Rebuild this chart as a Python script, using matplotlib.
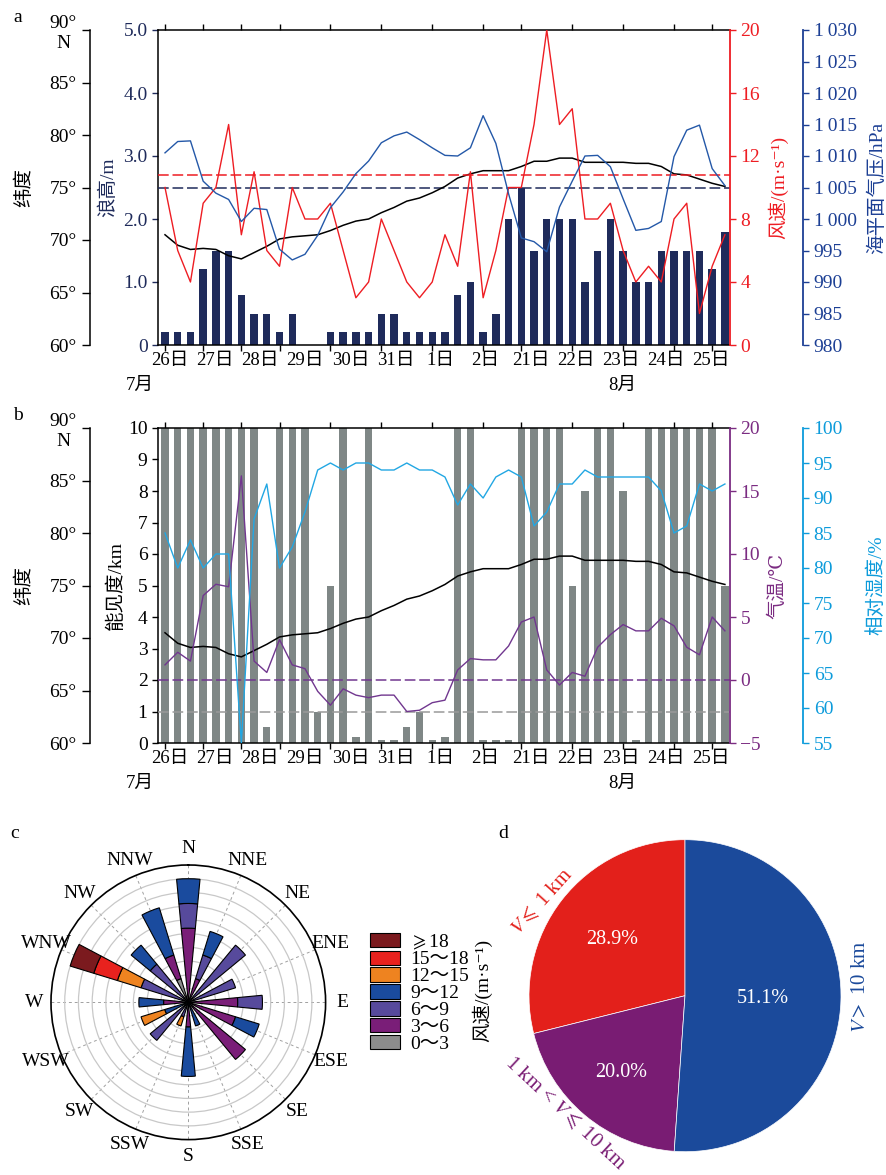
import numpy as np
import matplotlib
matplotlib.use('Agg')
import matplotlib.pyplot as plt
from matplotlib.patches import Patch

plt.rcParams['font.family'] = ['Liberation Serif', 'DejaVu Serif', 'Noto Sans CJK SC', 'DejaVu Sans']
plt.rcParams['mathtext.fontset'] = 'stix'
plt.rcParams['font.size'] = 14
plt.rcParams['axes.linewidth'] = 1.1

# --- time axis ---
day_labels = ['26日', '27日', '28日', '29日', '30日', '31日', '1日', '2日',
              '21日', '22日', '23日', '24日', '25日']
day_ticks = [0, 3, 6, 9, 13, 17, 21, 25, 28, 32, 36, 40, 43]

# --- panel a ---
wave = [0.2, 0.2, 0.2, 1.2, 1.5, 1.5, 0.8, 0.5, 0.5, 0.2, 0.5, 0, 0, 0.2, 0.2,
        0.2, 0.2, 0.5, 0.5, 0.2, 0.2, 0.2, 0.2, 0.8, 1.0, 0.2, 0.5, 2.0, 2.5, 1.5,
        2.0, 2.0, 2.0, 1.0, 1.5, 2.0, 1.5, 1.0, 1.0, 1.5, 1.5, 1.5, 1.5, 1.2, 1.8]
wind = [10, 6, 4, 9, 10, 14, 7, 11, 6, 5, 10, 8, 8, 9, 6, 3, 4, 8, 6, 4, 3, 4, 7,
        5, 11, 3, 6, 10, 10, 14, 20, 14, 15, 8, 8, 9, 6, 4, 5, 4, 8, 9, 2, 5, 7]
pressure = [1010.5, 1012.3, 1012.4, 1006.0, 1004.1, 1003.1, 999.6, 1001.7, 1001.5, 995.2,
            993.5, 994.4, 997.4, 1001.8, 1004.3, 1007.2, 1009.2, 1012.1, 1013.2, 1013.8,
            1012.6, 1011.3, 1010.1, 1010.0, 1011.3, 1016.4, 1012.0, 1004.0, 997.0, 996.4,
            994.8, 1001.9, 1006.0, 1010.0, 1010.1, 1008.3, 1003.2, 998.2, 998.5, 999.6,
            1009.9, 1014.1, 1014.9, 1008.0, 1005.3]
lat = [70.5, 69.5, 69.1, 69.2, 69.1, 68.5, 68.2, 68.8, 69.4, 70.1,
       70.3, 70.4, 70.5, 70.9, 71.4, 71.8, 72.0, 72.6, 73.1, 73.7,
       74.0, 74.5, 75.1, 75.9, 76.3, 76.6, 76.6, 76.6, 77.0, 77.5,
       77.5, 77.8, 77.8, 77.4, 77.4, 77.4, 77.4, 77.3, 77.3, 77.0,
       76.3, 76.2, 75.8, 75.4, 75.1]
wave_limit = 2.5
wind_limit = 10.8

# --- panel b ---
vis = [10, 10, 10, 10, 10, 10, 10, 10, 0.5, 10, 10, 10, 1.0, 5.0, 10, 0.2, 10, 0.1,
       0.1, 0.5, 1.0, 0.1, 0.2, 10, 10, 0.1, 0.1, 0.1, 10, 10, 10, 10, 5.0, 8.0, 10,
       10, 8.0, 0.1, 10, 10, 10, 10, 10, 10, 5.0]
temp = [1.2, 2.2, 1.5, 6.7, 7.6, 7.4, 16.2, 1.5, 0.6, 3.2,
        1.2, 0.9, -0.9, -2.0, -0.7, -1.2, -1.4, -1.2, -1.2, -2.5,
        -2.4, -1.8, -1.6, 0.8, 1.7, 1.6, 1.6, 2.7, 4.6, 5.0,
        0.8, -0.4, 0.6, 0.3, 2.6, 3.6, 4.4, 3.9, 3.9, 4.9,
        4.3, 2.6, 2.0, 5.0, 3.9]
rh = [85, 80, 84, 80, 82, 82, 55, 87, 92, 80, 83, 88, 94, 95, 94, 95, 95, 94, 94, 95,
      94, 94, 93, 89, 92, 90, 93, 94, 93, 86, 88, 92, 92, 94, 93, 93, 93, 93, 93, 91,
      85, 86, 92, 91, 92]
vis_limit = 1
temp_limit = 0

# --- panel c: wind rose ---
directions = ['N', 'NNE', 'NE', 'ENE', 'E', 'ESE', 'SE', 'SSE',
              'S', 'SSW', 'SW', 'WSW', 'W', 'WNW', 'NW', 'NNW']
speed_classes = ['0～3', '3～6', '6～9', '9～12', '12～15', '15～18', '$\\geqslant$18']
f_0_3 = [0, 0, 0, 0, 0, 0, 0, 0, 0, 0, 0, 0, 0, 0, 0, 1.8]
f_3_6 = [5.4, 1.8, 0, 0, 3.6, 3.6, 5.4, 0, 1.8, 0, 0, 0, 1.8, 0, 0, 1.8]
f_6_9 = [1.8, 1.8, 5.4, 3.6, 1.8, 0, 0, 0, 0, 1.1, 3.6, 0, 0, 3.6, 3.6, 0]
f_9_12 = [1.8, 1.8, 0, 0, 0, 1.8, 0, 1.8, 3.6, 0, 0, 1.8, 1.8, 0, 1.8, 3.6]
f_12_15 = [0, 0, 0, 0, 0, 0, 0, 0, 0, 0.7, 0, 1.8, 0, 1.8, 0, 0]
f_15_18 = [0, 0, 0, 0, 0, 0, 0, 0, 0, 0, 0, 0, 0, 1.8, 0, 0]
f_18 = [0, 0, 0, 0, 0, 0, 0, 0, 0, 0, 0, 0, 0, 1.8, 0, 0]
rose_colors = ['#8c8c8c', '#7a1e78', '#574a9c', '#1a4b9e', '#ee8320', '#e8221e', '#7b1a1e']

# --- panel d: visibility pie ---
vis_classes = ['$V \\leqslant$ 1 km', '1 km < $V \\leqslant$ 10 km', '$V >$ 10 km']
vis_share = [28.9, 20.0, 51.1]
pie_colors = ['#e3201b', '#791c73', '#1b4a9b']

navy = '#1f2b5b'
red = '#ee1d23'
pblue = '#2458a8'
pblue_ax = '#1c3f94'
grey_bar = '#7f8786'
tpurple = '#71378f'
tpurple_ax = '#7b2c82'
sky = '#22a7e3'
sky_ax = '#0c9bdb'

x = np.arange(len(wave))
W, H = 887, 1175
fig = plt.figure(figsize=(W / 100, H / 100), dpi=100)


def time_axis(ax):
    ax.set_xlim(-0.55, 44.4)
    ax.set_xticks(day_ticks)
    ax.set_xticklabels([])
    ax.set_xticks(np.linspace(0.4, 42.9, len(day_labels)), minor=True)
    ax.set_xticklabels(day_labels, minor=True)
    ax.tick_params(axis='x', which='major', top=True, bottom=True, direction='out', length=4, width=1)
    ax.tick_params(axis='x', which='minor', top=False, length=0, pad=5, labelsize=13.5)
    ax.text(-0.031, -0.127, '7月', transform=ax.transAxes, ha='center', va='center', fontsize=13.5)
    ax.text(0.811, -0.127, '8月', transform=ax.transAxes, ha='center', va='center', fontsize=13.5)


def lat_axis(ax):
    la = ax.twinx()
    la.yaxis.tick_left()
    la.yaxis.set_label_position('left')
    for s in ['right', 'top', 'bottom']:
        la.spines[s].set_visible(False)
    la.spines['left'].set_position(('axes', -0.119))
    la.set_ylim(60, 90)
    la.set_yticks(np.arange(60, 91, 5))
    la.set_yticklabels(['60°', '65°', '70°', '75°', '80°', '85°', '90°\nN'], multialignment='center')
    la.tick_params(axis='y', direction='out', length=6, width=1)
    la.set_ylabel('纬度')
    la.yaxis.set_label_coords(-0.2185, 0.5)
    la.plot(x, lat, color='black', lw=1.1)
    return la


def right_axis(ax, pos, color):
    r = ax.twinx()
    for s in ['left', 'top', 'bottom']:
        r.spines[s].set_visible(False)
    r.spines['right'].set_position(('axes', pos))
    r.spines['right'].set_color(color)
    r.spines['right'].set_linewidth(1.3)
    r.tick_params(axis='y', colors=color, direction='out', length=4, width=1)
    return r


# ================= panel a =================
ax_a = fig.add_axes([158 / W, 1 - 345 / H, 572 / W, 315 / H])
ax_a.bar(x, wave, width=0.58, color=navy, zorder=2)
ax_a.axhline(wave_limit, color=navy, lw=1.1, ls=(0, (7, 2.5)), zorder=3)
ax_a.set_ylim(0, 5)
ax_a.set_yticks(range(6))
ax_a.set_yticklabels(['0', '1.0', '2.0', '3.0', '4.0', '5.0'])
ax_a.tick_params(axis='y', colors=navy, direction='out', length=4, width=1)
ax_a.spines['right'].set_visible(False)
ax_a.set_ylabel('浪高/m', color=navy)
ax_a.yaxis.set_label_coords(-0.0717, 0.5)
time_axis(ax_a)
lat_axis(ax_a)

wind_a = right_axis(ax_a, 1.0, red)
wind_a.plot(x, wind, color=red, lw=1.0)
wind_a.axhline(wind_limit, color=red, lw=1.1, ls=(0, (7, 2.5)))
wind_a.set_ylim(0, 20)
wind_a.set_yticks(range(0, 21, 4))
wind_a.set_ylabel('风速/(m·s⁻¹)', color=red)
wind_a.yaxis.set_label_coords(1.066, 0.5)

pres_a = right_axis(ax_a, 1.128, pblue_ax)
pres_a.plot(x, pressure, color=pblue, lw=1.0)
pres_a.set_ylim(980, 1030)
pticks = np.arange(980, 1031, 5)
pres_a.set_yticks(pticks)
pres_a.set_yticklabels([f'{t}' if t < 1000 else f'1\u2009{t - 1000:03d}' for t in pticks])
pres_a.set_ylabel('海平面气压/hPa', color=pblue_ax)
pres_a.yaxis.set_label_coords(1.241, 0.5)

# ================= panel b =================
ax_b = fig.add_axes([158 / W, 1 - 743 / H, 572 / W, 315 / H])
ax_b.bar(x, vis, width=0.58, color=grey_bar, zorder=2)
ax_b.axhline(vis_limit, color='#9a9a9a', lw=1.1, ls=(0, (7, 2.5)), zorder=3)
ax_b.set_ylim(0, 10)
ax_b.set_yticks(range(11))
ax_b.tick_params(axis='y', direction='out', length=4, width=1)
ax_b.spines['right'].set_visible(False)
ax_b.set_ylabel('能见度/km')
ax_b.yaxis.set_label_coords(-0.0577, 0.5)
time_axis(ax_b)
lat_axis(ax_b)

temp_b = right_axis(ax_b, 1.0, tpurple_ax)
temp_b.plot(x, temp, color=tpurple, lw=1.0)
temp_b.axhline(temp_limit, color=tpurple, lw=1.1, ls=(0, (7, 2.5)))
temp_b.set_ylim(-5, 20)
temp_b.set_yticks(range(-5, 21, 5))
temp_b.set_ylabel('气温/℃', color=tpurple_ax)
temp_b.yaxis.set_label_coords(1.066, 0.5)

rh_b = right_axis(ax_b, 1.128, sky_ax)
rh_b.plot(x, rh, color=sky, lw=1.0)
rh_b.set_ylim(55, 100)
rh_b.set_yticks(range(55, 101, 5))
rh_b.set_ylabel('相对湿度/%', color=sky_ax)
rh_b.yaxis.set_label_coords(1.239, 0.5)

# ================= panel c =================
ax_c = fig.add_axes([51 / W, 1 - 1139.6 / H, 274.6 / W, 274.6 / H], projection='polar')
ax_c.set_theta_zero_location('N')
ax_c.set_theta_direction(-1)
theta = np.deg2rad(np.arange(16) * 22.5)
bottom = np.zeros(16)
rows = [f_0_3, f_3_6, f_6_9, f_9_12, f_12_15, f_15_18, f_18]
for vals, col in zip(rows, rose_colors):
    vals = np.array(vals)
    m = vals > 0
    ax_c.bar(theta[m], vals[m], width=0.19, bottom=bottom[m], color=col,
             edgecolor='black', linewidth=0.8, zorder=3)
    bottom += vals
ax_c.set_ylim(0, 10)
ax_c.set_yticks(range(1, 10))
ax_c.set_yticklabels([])
ax_c.yaxis.grid(True, color='#c8c8c8', lw=0.9, ls='-')
ax_c.xaxis.grid(True, color='#a0a0a0', lw=0.7, ls=(0, (3, 3)))
ax_c.set_axisbelow(True)
ax_c.set_xticks(theta)
ax_c.set_xticklabels(directions, fontsize=14)
ax_c.set_xticks(theta + np.deg2rad(11.25), minor=True)
ax_c.tick_params(axis='x', which='both', direction='in', length=5, width=1, pad=5)
ax_c.spines['polar'].set_linewidth(1.2)

handles = [Patch(facecolor=c, edgecolor='black', linewidth=0.8, label=l)
           for c, l in zip(rose_colors, speed_classes)][::-1]
ax_c.legend(handles=handles, loc='center left', bbox_to_anchor=(1.162, 0.535), frameon=False,
            fontsize=14, handlelength=1.55, handleheight=0.75, labelspacing=-0.05,
            handletextpad=0.5, borderpad=0, borderaxespad=0)
fig.text(482 / W, 1 - 990 / H, '风速/(m·s⁻¹)', rotation=90, ha='center', va='center', fontsize=14)

# ================= panel d =================
ax_d = fig.add_axes([529 / W, 1 - 1151.7 / H, 312 / W, 312 / H])
wedges, texts, autotexts = ax_d.pie(vis_share, colors=pie_colors, startangle=90, counterclock=True,
                                    autopct='%.1f%%', textprops=dict(color='white', fontsize=14.5),
                                    wedgeprops=dict(edgecolor='white', linewidth=0.5))
for w, t, d in zip(wedges, autotexts, [0.59, 0.64, 0.5]):
    a = np.deg2rad((w.theta1 + w.theta2) / 2)
    t.set_position((d * np.cos(a), d * np.sin(a)))
ax_d.set_xlim(-1, 1)
ax_d.set_ylim(-1, 1)
ax_d.set_aspect('equal')
for lab, col, pos, rot in zip(vis_classes, pie_colors,
                              [(-0.919, 0.603), (-0.769, -0.752), (1.126, 0.058)], [48, -43, 90]):
    ax_d.text(pos[0], pos[1], lab, color=col, fontsize=15, rotation=rot,
              ha='center', va='center', rotation_mode='anchor')

# panel letters
for lab, px, py in [('a', 18, 17), ('b', 18, 415), ('c', 15, 833), ('d', 503, 833)]:
    fig.text(px / W, 1 - py / H, lab, ha='center', va='center', fontsize=14)

fig.savefig('out.png', dpi=100)
